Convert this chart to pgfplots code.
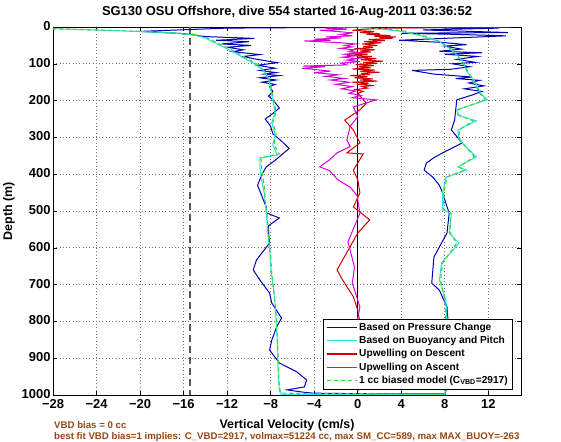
\documentclass[border=0pt]{standalone}
\usepackage{fontspec}
\setmainfont{Liberation Sans}
\usepackage{pgfplots}
\pgfplotsset{compat=1.18}
\definecolor{pblue}{RGB}{0,0,180}
\definecolor{pcyan}{RGB}{40,225,225}
\definecolor{pred}{RGB}{210,0,0}
\definecolor{pmag}{RGB}{215,0,215}
\definecolor{pgreen}{RGB}{60,215,60}
\definecolor{brn}{RGB}{150,70,20}
\begin{document}
\begin{tikzpicture}
\useasboundingbox (-53bp,-47bp) rectangle (508bp,395bp);
\begin{axis}[at={(0,0)}, anchor=south west, scale only axis, width=468bp, height=368bp,
  xmin=-28, xmax=15, ymin=0, ymax=1000, y dir=reverse,
  xtick={-28,-24,...,12}, xticklabels={−28,−24,−20,−16,−12,−8,−4,0,4,8,12},
  ytick={0,100,...,1000},
  tick align=inside, major tick length=4bp, tick style={black, line width=0.6bp},
  grid=major, grid style={black!55, dash pattern=on 0.8bp off 2.5bp, line width=0.7bp},
  axis line style={line width=0.8bp},
  ticklabel style={font=\bfseries\fontsize{13}{14}\selectfont},
  xticklabel style={yshift=-1bp},
  yticklabel style={xshift=1bp, yshift=1bp},
  /pgf/number format/assume math mode=true,
  /pgf/number format/1000 sep={},
  xlabel={Vertical Velocity (cm/s)}, ylabel={Depth (m)},
  label style={font=\bfseries\fontsize{12.5}{14}\selectfont},
  xlabel style={yshift=-4bp},
  title={SG130 OSU Offshore, dive 554 started 16-Aug-2011 03:36:52},
  title style={font=\bfseries\fontsize{13}{14}\selectfont, yshift=-1bp},
  legend style={at={(0.983,0.016)}, anchor=south east, font=\bfseries\fontsize{10.2}{12}\selectfont,
    draw=black, line width=0.6bp, fill=white, cells={anchor=west}, row sep=0.4bp},
  legend image code/.code={\draw[#1, line width=1.3bp] (0cm,0cm) -- (1.05cm,0cm);},
  every axis plot/.append style={line width=1bp},
]
\addplot[black!65, line width=1.6bp, dash pattern=on 7bp off 4bp, forget plot] coordinates {(-15.4,0) (-15.4,1000)};
\addplot[black, line width=0.8bp, forget plot] coordinates {(0,0) (0,1000)};
% blue: pressure change
\addplot[pblue] coordinates {
(-1,1) (-12,3) (-20,12) (-16,18) (-14,26) (-9.5,31) (-13,36) (-10,40) (-12.5,46) (-9.8,50) (-12,55) (-10.5,62) (-11.5,67) (-9,75) (-10.5,80) (-9.6,86) (-7.4,97) (-9.2,104) (-7.6,112) (-9,118) (-7.5,124) (-8.6,128) (-7.2,132) (-9,138) (-7.5,144) (-8.8,150) (-7.6,156) (-8.1,162) (-7.8,175) (-8.2,188) (-7.8,198) (-7.2,220) (-7.8,235) (-8.5,250) (-8.0,270) (-7.8,290) (-7.0,310) (-6.3,330) (-7.5,360) (-8.4,380) (-8.8,400) (-9.2,430) (-8.8,460) (-8.4,490) (-8.4,505) (-7.2,519) (-8.2,540) (-8.2,557) (-8.1,587) (-9.3,633) (-9.6,660) (-9.0,687) (-8.1,723) (-7.9,750) (-7.0,791) (-7.45,815) (-7.9,851) (-8.1,878) (-7.2,913) (-5.6,937) (-4.7,959) (-4.9,978) (-6.5,986) (-5.1,992) (-4.1,995) (2,997) (8,997)
(8.5,960) (8.2,900) (8.0,850) (8.3,800) (8.2,761) (7.5,715) (6.8,696) (6.9,660) (7.0,625) (7.7,587) (8.2,560) (8.4,506) (8.0,470) (7.8,451) (7.5,430) (6.9,408) (6.1,389) (6.3,370) (7.0,355) (7.8,342) (9.6,315) (8.6,280) (8.9,253) (9.0,225) (9.1,198) (10.5,185) (11.4,175) (9.8,168) (11.6,160) (10.2,152) (11.2,145) (9.0,140) (10.5,136) (7.0,128) (5.0,118) (8.5,115) (10.3,108) (8.7,100) (10.8,96) (9.1,88) (11.0,80) (8.0,74) (11.4,70) (7.5,66) (9.5,60) (8.0,52) (10.0,48) (7.8,42) (3.8,36) (13.6,24) (9,20) (4,17) (13.8,15) (6,8) (13,3) (0,0.5)
};
\addlegendentry{Based on Pressure Change}
% cyan: buoyancy and pitch
\addplot[pcyan] coordinates {
(-29,4) (-22,10) (-17,16) (-15,22) (-14,30) (-13,45) (-11.8,62) (-10.6,82) (-9.5,100) (-8.6,120) (-8.2,140) (-8.0,170) (-7.8,200) (-7.6,230) (-7.9,260) (-7.6,290) (-7.8,320) (-7.4,348) (-9.0,356) (-9.0,380) (-8.8,420) (-8.6,450) (-8.4,500) (-8.3,550) (-8.1,600) (-8.0,650) (-7.8,700) (-7.6,750) (-7.5,800) (-7.4,850) (-7.35,900) (-7.3,950) (-7.2,990) (-7,998)
(8,998) (8.5,950) (8.3,900) (8.1,850) (8.2,800) (8.1,742) (7.5,687) (7.7,641) (9.3,587) (8.4,560) (8.6,506) (7.8,497) (7.8,451) (8.1,408) (10,389) (9.2,380) (10.9,353) (9.3,307) (9.2,280) (10.9,255) (9.2,240) (9.1,225) (11.9,198) (11.3,180) (10.8,150) (10.0,120) (9.6,90) (8.5,60) (7.5,40) (6,25) (4,12) (2,5) (0,1)
};
\addlegendentry{Based on Buoyancy and Pitch}
% red: upwelling on descent
\addplot[pred] coordinates {
(14,0.5) (8,1.5) (3,3) (0.5,6) (-0.5,9) (1.5,12) (0.2,15) (2,18) (0.8,20) (3,23) (1.5,25) (3.5,27) (2,29) (3.2,31) (1,34) (2.5,37) (0.6,40) (2.2,43) (0.4,46) (1.8,50) (0.5,53) (1.4,56) (-0.3,59) (1.6,62) (0.2,65) (1.2,68) (-0.8,71) (0.9,74) (-1,77) (1.3,80) (0,83) (1.7,86) (0.3,89) (2.3,93) (0.5,96) (1.8,99) (-0.2,102) (1.5,105) (0.1,108) (1.2,111) (-0.5,114) (1.6,117) (0.2,120) (2,123) (0.3,126) (1.1,129) (-0.7,132) (0.9,135) (-0.3,138) (1.4,141) (0.2,144) (1.8,147) (-0.5,150) (1.0,153) (0.2,156) (1.5,159) (0.4,162) (0.9,166) (-0.2,170) (0.5,175) (0,180) (0.8,207) (0.2,225) (-1.2,253) (-0.4,280) (0.2,315) (-1.0,342) (0.5,345) (-0.4,389) (0,415) (0.2,451) (-0.4,489) (1.1,524) (0,560) (-0.7,597) (-1.9,660) (-1.4,687) (-0.4,733) (0,769) (0.3,820) (-0.2,880) (0.2,940) (0,990)
};
\addlegendentry{Upwelling on Descent}
% magenta: upwelling on ascent
\addplot[pmag] coordinates {
(0,990) (0.3,900) (-0.2,820) (0.2,761) (-0.5,696) (-0.3,652) (-0.9,584) (0.2,506) (0,470) (0,460) (-0.7,435) (-1.8,416) (-2.6,390) (-3.5,380) (-2.6,361) (-1.9,342) (-0.7,325) (-1,307) (-0.7,270) (0,244) (-0.4,217) (1.7,198) (-0.5,192) (0.3,186) (-0.8,180) (-0.2,174) (-1.5,168) (-0.5,162) (-2,156) (-0.8,150) (-2.5,144) (-1.2,140) (-3,134) (-1.8,130) (-4,124) (-2.5,120) (-5.1,112) (-3,108) (-5,106) (-1,103) (-1.5,98) (0.2,94) (-1,90) (0,86) (-1.4,82) (-0.2,78) (-1.2,74) (0.3,70) (-0.8,66) (-0.3,62) (-1.6,58) (-0.5,54) (-1.2,50) (-0.2,46) (-2,42) (-4.9,38) (-2.5,36) (-4,33) (-1.5,30) (-2.9,27) (-0.5,24) (-1.6,20) (-0.4,16) (-2,12) (-3.5,9) (-1,6) (-3,3) (0,0.5)
};
\addlegendentry{Upwelling on Ascent}
% green dashed: model
\addplot[pgreen, dash pattern=on 4bp off 3bp, line width=1.1bp] coordinates {
(-30,3) (-24,8) (-18,14) (-15,20) (-13.8,30) (-12.8,45) (-11.6,62) (-10.4,82) (-9.2,102) (-8.5,122) (-8.1,145) (-7.9,175) (-7.7,200) (-7.5,230) (-7.8,260) (-7.5,290) (-7.7,320) (-7.2,345) (-8.9,355) (-8.8,390) (-8.6,430) (-8.5,470) (-8.3,520) (-8.2,570) (-8.0,620) (-7.9,670) (-7.7,720) (-7.5,780) (-7.4,840) (-7.3,900) (-7.25,960) (-7.1,995)
(8,998) (8.4,950) (8.2,900) (8.0,850) (8.1,800) (8.0,742) (7.6,687) (7.8,641) (9.1,587) (8.5,560) (8.5,506) (7.9,497) (7.9,451) (8.2,408) (9.8,389) (9.3,380) (10.7,353) (9.4,307) (9.3,280) (10.6,255) (9.3,240) (9.2,225) (11.7,198) (11.2,180) (10.7,150) (10.1,120) (9.5,90) (8.6,60) (7.6,40) (6.2,25) (4.5,12) (2.5,5) (0,1)
};
\addlegendentry{1 cc biased model (C\textsubscript{VBD}=2917)}
\end{axis}
\node[anchor=west, text=brn, font=\bfseries\fontsize{9.7}{11}\selectfont, inner sep=0pt] at (1bp,-30bp) {VBD bias = 0 cc};
\node[anchor=west, text=brn, font=\bfseries\fontsize{9.7}{11}\selectfont, inner sep=0pt] at (1bp,-42bp) {best fit VBD bias=1 implies: C\_VBD=2917, volmax=51224 cc, max SM\_CC=589, max MAX\_BUOY=-263};
\end{tikzpicture}
\end{document}
